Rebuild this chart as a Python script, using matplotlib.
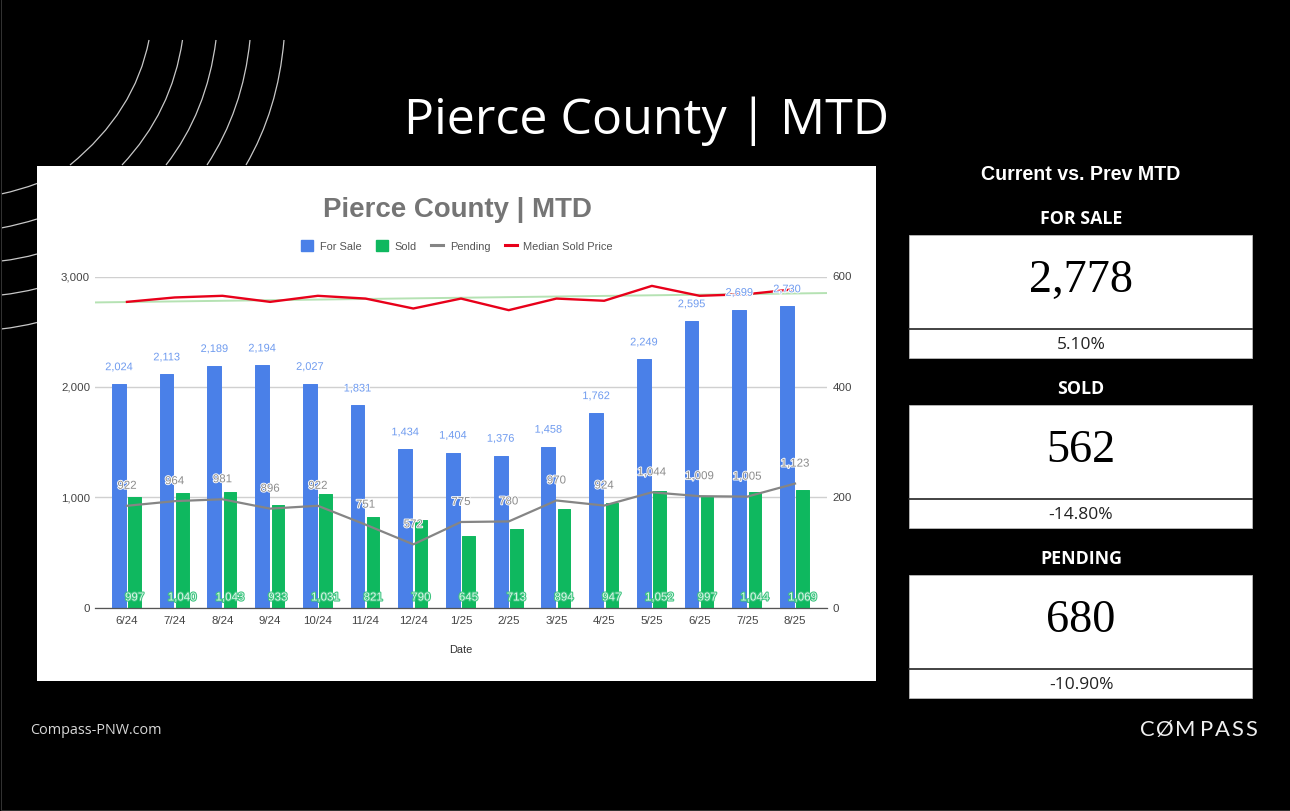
#!/usr/bin/env python
"""
Pierce County MTD slide
"""
import matplotlib
matplotlib.use('Agg')
import matplotlib.pyplot as plt
import matplotlib.patheffects as pe
from matplotlib.patches import Rectangle, PathPatch, Patch
from matplotlib.path import Path
from matplotlib.lines import Line2D

W, H = 1290, 811

# Data
dates = ['6/24', '7/24', '8/24', '9/24', '10/24', '11/24', '12/24', '1/25',
         '2/25', '3/25', '4/25', '5/25', '6/25', '7/25', '8/25']
for_sale = [2024, 2113, 2189, 2194, 2027, 1831, 1434, 1404,
            1376, 1458, 1762, 2249, 2595, 2699, 2730]
sold = [997, 1040, 1043, 933, 1031, 821, 790, 645,
        713, 894, 947, 1052, 997, 1044, 1069]
pending = [922, 964, 981, 896, 922, 751, 572, 775,
           780, 970, 924, 1044, 1009, 1005, 1123]
median_price = [554, 562, 565, 554, 565, 560, 542, 560,
                539, 560, 556, 583, 565, 568, 577]
trend_ends = [553, 570]

left_ticks = [0, 1000, 2000, 3000]
right_ticks = [0, 200, 400, 600]

panel_names = ['FOR SALE', 'SOLD', 'PENDING']
panel_values = ['2,778', '562', '680']
panel_changes = ['5.10%', '-14.80%', '-10.90%']

BLUE = '#4a80e8'
GREEN = '#0fb85f'
GRAY = '#858585'
RED = '#e8001a'
TREND = '#b5e2b3'


def pt(px):
    # pixel size to points at dpi 100
    return px * 0.72


fig = plt.figure(figsize=(W / 100, H / 100), dpi=100, facecolor='black')

# Slide layer, in pixel coordinates
bg = fig.add_axes([0, 0, 1, 1], zorder=0)
bg.set_xlim(0, W)
bg.set_ylim(H, 0)
bg.axis('off')

# Thin edge of the screenshot
bg.plot([0.5, 0.5, W], [0, H - 1, H - 1], color='#333333', lw=0.7)

# Decorative arcs: start, control, end
arcs = [((149, 40), (135, 112), (70, 165)),
        ((182.5, 40), (172, 112), (122, 165)),
        ((216, 40), (207, 112), (166, 165)),
        ((250, 40), (243, 110), (207, 165)),
        ((284, 40), (278, 110), (246, 165)),
        ((1, 194), (20, 190), (37, 183.5)),
        ((1, 228), (20, 224.5), (37, 219)),
        ((1, 261), (20, 259), (37, 254)),
        ((1, 295), (20, 293), (37, 288.5)),
        ((1, 329), (20, 327), (37, 322.5))]
for arc in arcs:
    path = Path(arc, [Path.MOVETO, Path.CURVE3, Path.CURVE3])
    bg.add_patch(PathPatch(path, fill=False, ec='#c8c8c8', lw=0.9))

bg.text(646, 121, 'Pierce County | MTD', color='white', family='Open Sans',
        fontsize=pt(50.1), ha='center', va='center')

# White card behind the chart
bg.add_patch(Rectangle((37, 166), 839, 515, fc='white', ec='none'))
bg.text(457, 210, 'Pierce County | MTD', color='#757575', family='Liberation Sans',
        weight='bold', fontsize=pt(27.6), ha='center', va='center')
bg.text(461, 650, 'Date', color='#333333', family='Liberation Sans',
        fontsize=pt(11), ha='center', va='center')

# Right hand panels
bg.text(1081, 175, 'Current vs. Prev MTD', color='white', family='Liberation Sans',
        weight='bold', fontsize=pt(19.7), ha='center', va='center')
for n, name in enumerate(panel_names):
    top = 235 + 170 * n
    bg.text(1081, top - 16, name, color='white', family='Open Sans', weight='bold',
            fontsize=pt(17.8), ha='center', va='center')
    bg.add_patch(Rectangle((909, top), 343, 123, fc='white', ec='#bbbbbb', lw=0.6))
    bg.plot([909, 1252], [top + 93.5, top + 93.5], color='#222222', lw=1.2)
    bg.text(1081, top + 46, panel_values[n], color='black', family='Liberation Serif',
            fontsize=pt(46.3), ha='center', va='center')
    bg.text(1081, top + 110, panel_changes[n], color='#222222', family='Open Sans',
            fontsize=pt(17.4), ha='center', va='center')

# Footer
bg.text(30, 731, 'Compass-PNW.com', color='#d8d8d8', family='Open Sans',
        fontsize=pt(14.4), ha='left', va='center')
logo_letters = ['C', '\u00d8', 'M', 'P', 'A', 'S', 'S']
logo_x = [1147.5, 1164.5, 1185.5, 1207, 1222.5, 1237.5, 1251.5]
for letter, lx in zip(logo_letters, logo_x):
    bg.text(lx, 730, letter, color='#f0f0f0', family='Lato', fontsize=pt(22),
            ha='center', va='center')

# Chart
ax = fig.add_axes([95 / W, 1 - 607.5 / H, 732 / W, 331 / H], zorder=1)
ax.patch.set_alpha(0)
ax2 = ax.twinx()
ax2.patch.set_alpha(0)

x = list(range(len(dates)))
ax.set_xlim(-0.67, 14.67)
ax.set_ylim(0, 3000)
ax2.set_ylim(0, 600)

ax.set_axisbelow(True)
ax.grid(axis='y', color='#d0d0d0', lw=1)

sale_bars = ax.bar([i - 0.17 for i in x], for_sale, width=0.29, color=BLUE,
                   edgecolor=BLUE, linewidth=0.7, zorder=2)
sold_bars = ax.bar([i + 0.16 for i in x], sold, width=0.26, color=GREEN,
                   edgecolor=GREEN, linewidth=0.7, zorder=2)
for bar in list(sale_bars) + list(sold_bars):
    bar.set_joinstyle('round')

ax.plot(x, pending, color=GRAY, lw=1.6, zorder=3)
ax2.plot(ax.get_xlim(), trend_ends, color=TREND, lw=1.4, zorder=1)
ax2.plot(x, median_price, color=RED, lw=1.7, zorder=2)

ax.set_xticks(x)
ax.set_xticklabels(dates)
ax.set_yticks(left_ticks)
ax.set_yticklabels([f'{v:,}' for v in left_ticks])
ax2.set_yticks(right_ticks)
for a in (ax, ax2):
    for side in ('top', 'left', 'right', 'bottom'):
        a.spines[side].set_visible(False)
    a.tick_params(length=0, labelsize=pt(11.5), labelcolor='#444444', labelfontfamily='Liberation Sans')
ax.tick_params(axis='y', pad=3.5)
ax.tick_params(axis='x', pad=6)
ax2.tick_params(axis='y', pad=4)
ax.spines['bottom'].set_visible(True)
ax.spines['bottom'].set_color('#555555')
ax.spines['bottom'].set_linewidth(0.9)

# Value labels sit on the top axes so they cover the price line
for i in x:
    ax2.annotate(f'{for_sale[i]:,}', (i - 0.17, for_sale[i]), xycoords=ax.transData,
                 xytext=(0, pt(17)), textcoords='offset points', ha='center', va='center',
                 color='#6f9bef', family='Liberation Sans', fontsize=pt(11), zorder=5,
                 path_effects=[pe.withStroke(linewidth=1.4, foreground='white')])
    ax2.annotate(f'{pending[i]:,}', (i, pending[i]), xycoords=ax.transData,
                 xytext=(0, pt(20)), textcoords='offset points', ha='center', va='center',
                 color='#8c8c8c', family='Liberation Sans', fontsize=pt(11.5), zorder=5,
                 path_effects=[pe.withStroke(linewidth=1.3, foreground='white')])
    ax2.annotate(f'{sold[i]:,}', (i + 0.16, 0), xycoords=ax.transData,
                 xytext=(0, pt(10)), textcoords='offset points', ha='center', va='center',
                 color='#dff8ea', family='Liberation Sans', fontsize=pt(11.5), zorder=5,
                 path_effects=[pe.withStroke(linewidth=1.5, foreground='#3cc47f')])

handles = [Patch(color=BLUE, label='For Sale'),
           Patch(color=GREEN, label='Sold'),
           Line2D([], [], color=GRAY, lw=2.2, label='Pending'),
           Line2D([], [], color=RED, lw=2.2, label='Median Sold Price')]
fig.legend(handles=handles, loc='center', bbox_to_anchor=(457 / W, 1 - 246 / H), ncol=4,
           frameon=False, prop={'family': 'Liberation Sans', 'size': pt(11)},
           labelcolor='#555555', handlelength=1.1, handleheight=1.1,
           handletextpad=0.6, columnspacing=1.3, borderpad=0, borderaxespad=0)

plt.savefig('out.png', dpi=100, facecolor='black')
